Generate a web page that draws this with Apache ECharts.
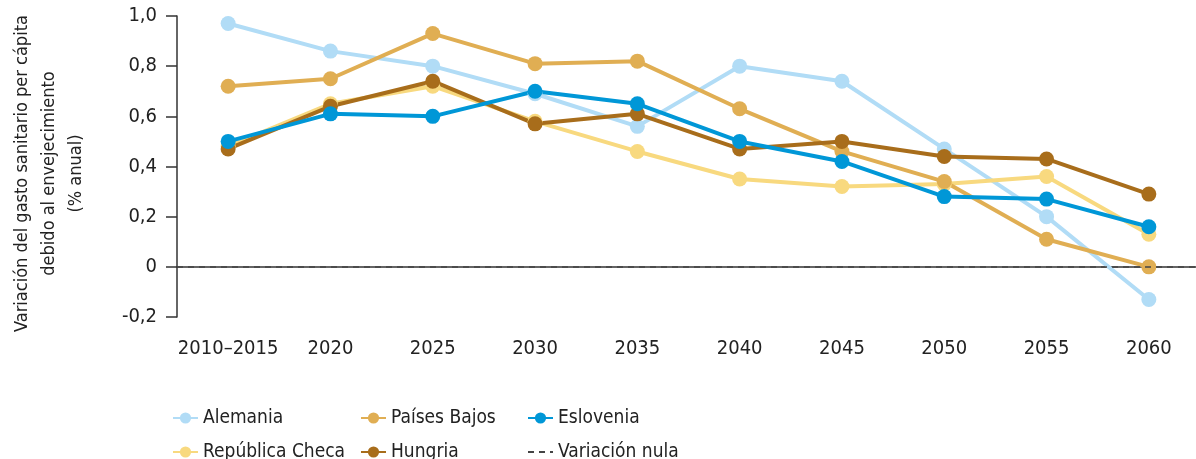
<!DOCTYPE html>
<html>
<head>
<meta charset="utf-8">
<script src="https://cdn.jsdelivr.net/npm/echarts@6/dist/echarts.min.js"></script>
<style>
    html, body { margin: 0; padding: 0; background: #fff; }
    #chart { width: 1196px; height: 459px; }
</style>
</head>
<body>
<div id="chart"></div>
<script>
var years = ['2010–2015', '2020', '2025', '2030', '2035', '2040', '2045', '2050', '2055', '2060'];

var alemania = [0.97, 0.86, 0.80, 0.69, 0.56, 0.80, 0.74, 0.47, 0.20, -0.13];
var republicaCheca = [0.48, 0.65, 0.72, 0.58, 0.46, 0.35, 0.32, 0.33, 0.36, 0.13];
var paisesBajos = [0.72, 0.75, 0.93, 0.81, 0.82, 0.63, 0.46, 0.34, 0.11, 0.00];
var hungria = [0.47, 0.64, 0.74, 0.57, 0.61, 0.47, 0.50, 0.44, 0.43, 0.29];
var eslovenia = [0.50, 0.61, 0.60, 0.70, 0.65, 0.50, 0.42, 0.28, 0.27, 0.16];

var yTicks = [-0.2, 0, 0.2, 0.4, 0.6, 0.8, 1.0];

(function () {
    var chart = echarts.init(document.getElementById('chart'));
    var font = "'DejaVu Sans Condensed', 'Roboto', sans-serif";

    function lineSeries(name, data, color) {
        return {
            name: name,
            type: 'line',
            data: data,
            symbol: 'circle',
            symbolSize: 15,
            lineStyle: { width: 4, color: color },
            itemStyle: { color: color },
            emphasis: { disabled: true }
        };
    }

    // una leyenda por elemento, para fijar la rejilla 3x2
    function legendItem(left, top, name) {
        return {
            left: left,
            top: top,
            padding: 0,
            itemWidth: 25,
            itemHeight: 14,
            itemGap: 6,
            data: [name],
            textStyle: { fontFamily: font, fontSize: 19, lineHeight: 20, color: '#222' }
        };
    }

    var option = {
        backgroundColor: '#fff',
        animation: false,

        legend: [
            legendItem(172, 408, 'Alemania'),
            legendItem(172, 442, 'República Checa'),
            legendItem(360, 408, 'Países Bajos'),
            legendItem(360, 442, 'Hungria'),
            legendItem(527, 408, 'Eslovenia'),
            legendItem(527, 442, 'Variación nula')
        ],

        grid: {
            top: 16,
            left: 177,
            right: -4,
            bottom: 142,
            outerBoundsMode: 'none'
        },

        xAxis: {
            type: 'category',
            data: years,
            boundaryGap: true,
            axisLine: { lineStyle: { color: '#333', width: 1.5 } },
            axisTick: { length: 11, lineStyle: { color: '#333', width: 1.5 } },
            axisLabel: { interval: 0, margin: 22, fontFamily: font, fontSize: 20, color: '#222' }
        },

        yAxis: {
            type: 'value',
            min: yTicks[0],
            max: yTicks[yTicks.length - 1],
            interval: 0.2,
            name: 'Variación del gasto sanitario per cápita\ndebido al envejecimiento\n(% anual)',
            nameLocation: 'middle',
            nameGap: 87,
            nameTextStyle: {
                fontFamily: font,
                fontSize: 18,
                color: '#222',
                lineHeight: 27,
                padding: [0, 14, 0, 0]
            },
            splitLine: { show: false },
            axisLine: { show: true, lineStyle: { color: '#333', width: 1.5 } },
            axisTick: { show: true, length: 11, lineStyle: { color: '#333', width: 1.5 } },
            axisLabel: {
                margin: 20,
                fontFamily: font,
                fontSize: 20,
                color: '#222',
                formatter: function (v) {
                    if (Math.abs(v) < 1e-9) return '0';
                    return v.toFixed(1).replace('.', ',');
                }
            }
        },

        series: [
            lineSeries('Alemania', alemania, '#B1DCF6'),
            lineSeries('República Checa', republicaCheca, '#F8D97F'),
            lineSeries('Países Bajos', paisesBajos, '#E0AE53'),
            lineSeries('Hungria', hungria, '#A86D1B'),
            lineSeries('Eslovenia', eslovenia, '#0097D7'),
            {
                name: 'Variación nula',
                type: 'line',
                data: [],
                symbol: 'none',
                lineStyle: { color: '#444', width: 1.5, type: [6, 5] },
                itemStyle: { color: 'rgba(0,0,0,0)' },
                markLine: {
                    silent: true,
                    symbol: 'none',
                    label: { show: false },
                    lineStyle: { color: '#444', width: 1.5, type: [6, 5] },
                    data: [{ yAxis: 0 }]
                }
            }
        ]
    };

    chart.setOption(option);
})();
</script>
</body>
</html>
